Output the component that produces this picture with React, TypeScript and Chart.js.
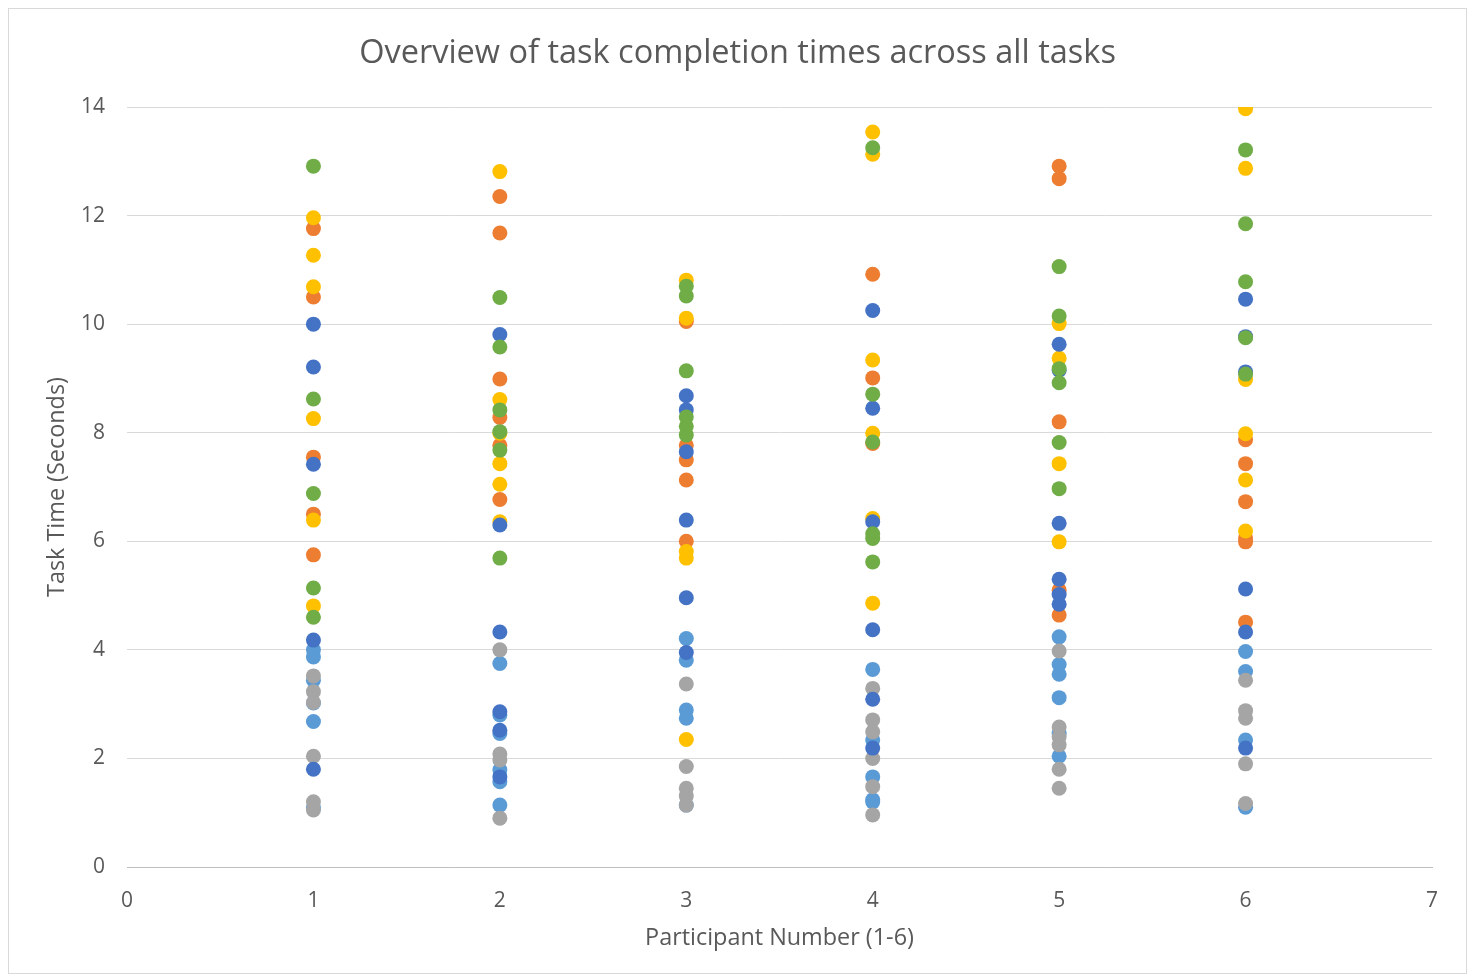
import React, { useEffect, useRef } from "react";
import { Chart, registerables } from "chart.js";

Chart.register(...registerables);

const participants = [1, 2, 3, 4, 5, 6];
const xTicks = [0, 1, 2, 3, 4, 5, 6, 7];
const yTicks = [0, 2, 4, 6, 8, 10, 12, 14];

// Values per participant (one inner list per participant 1..6)
const greenTimes = [
  [12.91, 8.62, 6.88, 5.14, 4.6],
  [10.49, 9.58, 8.42, 8.02, 7.68, 5.69],
  [10.7, 10.52, 9.14, 8.29, 8.12, 7.96],
  [13.25, 8.71, 7.83, 6.14, 6.05, 5.62],
  [11.06, 10.15, 9.18, 8.92, 7.82, 6.97],
  [13.21, 11.85, 10.78, 9.75, 9.08],
];
const darkBlueTimes = [
  [10.0, 9.21, 7.42, 4.18, 1.8],
  [9.81, 6.3, 4.33, 2.86, 2.52, 1.66],
  [8.68, 8.42, 7.65, 6.39, 4.96, 3.95],
  [10.25, 8.45, 6.36, 4.37, 3.09, 2.19],
  [9.63, 9.15, 6.33, 5.3, 5.02, 4.84],
  [10.46, 9.77, 9.12, 5.12, 4.33, 2.19],
];
const yellowTimes = [
  [11.96, 11.27, 10.69, 8.26, 6.39, 4.81],
  [12.81, 8.61, 7.99, 7.43, 7.05, 6.36],
  [10.81, 10.11, 5.81, 5.69, 2.35],
  [13.54, 13.13, 9.34, 7.99, 6.42, 4.86],
  [10.01, 9.37, 7.43, 5.99],
  [13.97, 12.87, 8.98, 7.98, 7.13, 6.19],
];
const orangeTimes = [
  [11.76, 10.5, 7.55, 6.5, 5.75],
  [12.35, 11.68, 8.99, 8.28, 7.77, 6.77],
  [10.05, 7.77, 7.5, 7.13, 6.0],
  [10.92, 9.01, 7.8],
  [12.91, 12.68, 8.2, 5.1, 4.64],
  [7.87, 7.43, 6.73, 6.06, 5.99, 4.51],
];
const grayTimes = [
  [3.52, 3.23, 3.03, 2.04, 1.2, 1.05],
  [4.0, 2.08, 1.97, 0.9],
  [3.37, 1.85, 1.45, 1.31, 1.14],
  [3.29, 2.71, 2.49, 2.0, 1.48, 0.96],
  [3.98, 2.58, 2.4, 2.25, 1.8, 1.45],
  [3.44, 2.88, 2.74, 1.9, 1.17],
];
const lightBlueTimes = [
  [4.0, 3.87, 3.44, 3.02, 2.68, 1.09],
  [3.75, 2.8, 2.46, 1.79, 1.57, 1.14],
  [4.21, 3.81, 2.89, 2.74, 1.14],
  [3.64, 2.34, 1.66, 1.24, 1.2],
  [4.24, 3.73, 3.55, 3.12, 2.46, 2.04],
  [3.97, 3.6, 2.34, 1.1],
];

const toPoints = (times: number[][]) =>
  times.flatMap((list, i) => list.map((y) => ({ x: participants[i], y })));

const FONT = "'Open Sans', sans-serif";
const TEXT = "#595959";

export default function App() {
  const ref = useRef<HTMLCanvasElement | null>(null);

  useEffect(() => {
    if (!ref.current) return;
    const series = [
      { label: "Green", data: greenTimes, color: "#70AD47" },
      { label: "Blue", data: darkBlueTimes, color: "#4472C4" },
      { label: "Yellow", data: yellowTimes, color: "#FFC000" },
      { label: "Orange", data: orangeTimes, color: "#ED7D31" },
      { label: "Gray", data: grayTimes, color: "#A5A5A5" },
      { label: "Light blue", data: lightBlueTimes, color: "#5B9BD5" },
    ];
    const chart = new Chart(ref.current, {
      type: "scatter",
      data: {
        datasets: series.map((s) => ({
          label: s.label,
          data: toPoints(s.data),
          backgroundColor: s.color,
          borderColor: s.color,
          borderWidth: 0,
          pointRadius: 7.5,
          pointHoverRadius: 7.5,
        })),
      },
      options: {
        animation: false,
        responsive: false,
        maintainAspectRatio: false,
        layout: { padding: { left: 34, right: 34, top: 0, bottom: 0 } },
        plugins: {
          legend: { display: false },
          tooltip: { enabled: false },
          title: {
            display: true,
            text: "Overview of task completion times across all tasks",
            color: TEXT,
            font: { family: FONT, size: 32.5, weight: "normal" },
            padding: { top: 25.5, bottom: 33.5 },
          },
        },
        scales: {
          x: {
            type: "linear",
            min: 0,
            max: 7,
            afterBuildTicks: (scale: any) => {
              scale.ticks = xTicks.map((v) => ({ value: v }));
            },
            afterFit: (scale: any) => {
              scale.height = 106;
            },
            grid: { display: false, drawTicks: false },
            border: { display: true, color: "#BFBFBF", width: 1 },
            ticks: {
              color: TEXT,
              font: { family: FONT, size: 21 },
              padding: 21,
            },
            title: {
              display: true,
              text: "Participant Number (1-6)",
              color: TEXT,
              font: { family: FONT, size: 23.4 },
              padding: { top: 0, bottom: 21 },
            },
          },
          y: {
            type: "linear",
            min: 0,
            max: 14,
            afterBuildTicks: (scale: any) => {
              scale.ticks = yTicks.map((v) => ({ value: v }));
            },
            afterFit: (scale: any) => {
              scale.width = 84;
            },
            grid: { color: "#D9D9D9", lineWidth: 1, drawTicks: false },
            border: { display: false },
            ticks: {
              color: TEXT,
              font: { family: FONT, size: 21 },
              padding: 22,
            },
            title: {
              display: true,
              text: "Task Time (Seconds)",
              color: TEXT,
              font: { family: FONT, size: 23.4 },
              padding: { top: 0, bottom: 0 },
            },
          },
        },
      },
    } as any);
    return () => chart.destroy();
  }, []);

  return (
    <div
      style={{
        width: 1459,
        height: 966,
        border: "1px solid #D9D9D9",
        boxSizing: "border-box",
        background: "#FFFFFF",
      }}
    >
      <canvas ref={ref} width={1457} height={964} style={{ display: "block" }} />
    </div>
  );
}
